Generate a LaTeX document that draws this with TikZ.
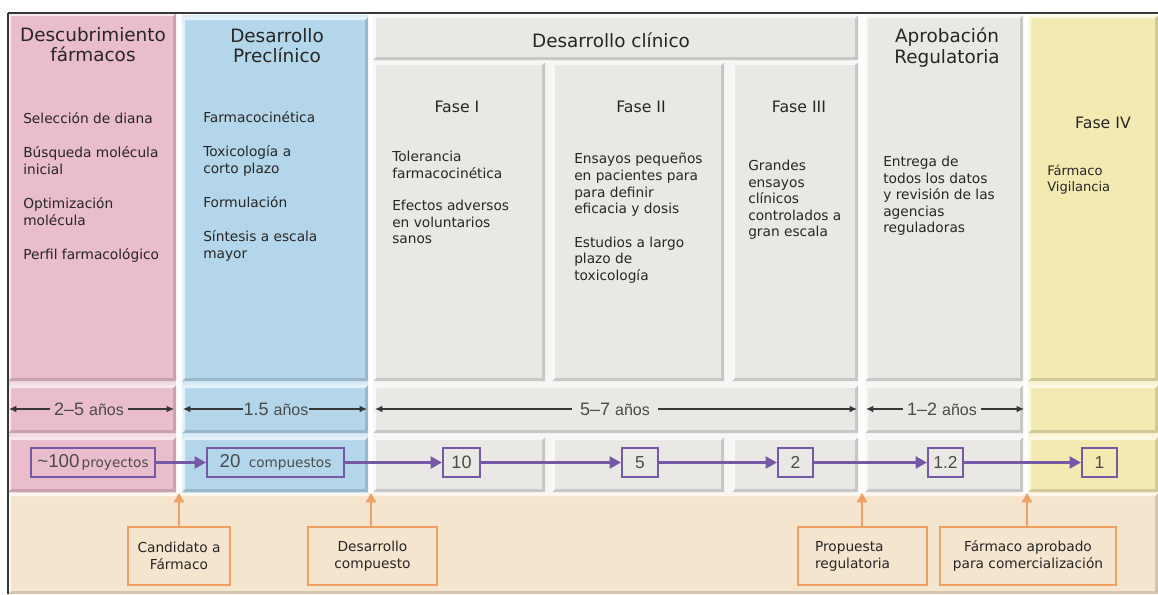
\documentclass[tikz,border=0pt]{standalone}
\usepackage{fontspec}
\setmainfont{DejaVu Sans}
\newfontfamily\numfont{Liberation Sans}
\usetikzlibrary{arrows.meta}

\definecolor{pinkc}{RGB}{233,189,203}
\definecolor{bluec}{RGB}{180,214,235}
\definecolor{grayc}{RGB}{234,232,229}
\definecolor{yellowc}{RGB}{243,234,178}
\definecolor{beigec}{RGB}{246,229,206}
\definecolor{purplec}{RGB}{117,88,166}
\definecolor{orangec}{RGB}{241,158,98}
\definecolor{inkc}{RGB}{38,38,38}
\definecolor{numc}{RGB}{75,75,75}
\definecolor{rulec}{RGB}{55,55,55}

% raised panel: colour, top-left x,y, bottom-right x,y (y grows downwards)
\newcommand\bevelbox[5]{%
  \fill[#1] (#2,#3) rectangle (#4,#5);
  \fill[#1!86!black] (#4,#3) -- (#4,#5) -- (#2,#5) -- ({#2+3},{#5-3}) -- ({#4-3},{#5-3}) -- ({#4-3},{#3+3}) -- cycle;
  \fill[#1!35!white] (#2,#5) -- (#2,#3) -- (#4,#3) -- ({#4-3},{#3+3}) -- ({#2+3},{#3+3}) -- ({#2+3},{#5-3}) -- cycle;
}

\begin{document}
\begin{tikzpicture}[x=0.75pt,y=-0.75pt,
  hdr/.style={font=\fontsize{13.8}{15.5}\selectfont, text=inkc, align=center, inner sep=0pt},
  phase/.style={font=\fontsize{11.8}{14}\selectfont, text=inkc, inner sep=0pt},
  body/.style={font=\fontsize{10.3}{12.4}\selectfont, text=inkc, align=left, inner sep=0pt},
  count/.style={draw=purplec, line width=1.6pt, minimum height=21.75pt, inner xsep=1.5pt, inner ysep=0pt, text=numc},
  flow/.style={purplec, line width=1.8pt, -{Triangle[length=8.5pt,width=9pt]}},
  dur/.style={rulec, line width=0.8pt, -{Latex[length=5.5pt,width=5pt]}},
  durtxt/.style={font=\numfont\fontsize{13.5}{15}\selectfont, text=numc, inner ysep=0pt},
  milestone/.style={draw=orangec, line width=1.6pt, fill=beigec, align=center, text=inkc,
    font=\fontsize{10.3}{12.8}\selectfont, minimum height=43.5pt, inner ysep=0pt},
  up/.style={orangec, line width=2pt, -{Triangle[length=7pt,width=7.5pt]}}]

\useasboundingbox (0,0) rectangle (1158,594);
\fill[white] (0,0) rectangle (1158,594);

% ---- column backgrounds and raised panels ----
\fill[pinkc!55!white] (8,13) rectangle (176,493);
\bevelbox{pinkc}{8}{13}{176}{381}
\bevelbox{pinkc}{8}{385}{176}{433}
\bevelbox{pinkc}{8}{437}{176}{492}

\fill[bluec!55!white] (182,15) rectangle (368,493);
\bevelbox{bluec}{182}{17}{368}{381}
\bevelbox{bluec}{182}{385}{368}{433}
\bevelbox{bluec}{182}{437}{368}{492}

\fill[grayc!40!white] (373,15) rectangle (858,493);
\bevelbox{grayc}{373}{15}{858}{60}
\bevelbox{grayc}{373}{62}{545}{381}
\bevelbox{grayc}{552}{62}{724}{381}
\bevelbox{grayc}{732}{62}{858}{381}
\bevelbox{grayc}{373}{385}{858}{433}
\bevelbox{grayc}{373}{437}{545}{492}
\bevelbox{grayc}{552}{437}{724}{492}
\bevelbox{grayc}{732}{437}{858}{492}

\fill[grayc!40!white] (865,15) rectangle (1023,493);
\bevelbox{grayc}{865}{15}{1023}{381}
\bevelbox{grayc}{865}{385}{1023}{433}
\bevelbox{grayc}{865}{437}{1023}{492}

\fill[yellowc!55!white] (1028,15) rectangle (1158,493);
\bevelbox{yellowc}{1028}{15}{1158}{381}
\bevelbox{yellowc}{1028}{385}{1158}{433}
\bevelbox{yellowc}{1028}{437}{1158}{492}

\bevelbox{beigec}{8}{493}{1158}{594}

% frame rules
\draw[rulec, line width=1.5pt] (8,13) -- (1158,13);
\draw[rulec, line width=1.5pt] (8,13) -- (8,594);

% ---- headings ----
\node[hdr, anchor=north] (hDesc) at (93,27) {Descubrimiento\\fármacos};
\node[hdr, anchor=north] (hPre) at (277,28) {Desarrollo\\Preclínico};
\node[hdr, anchor=base] (hClin) at (611,47) {Desarrollo clínico};
\node[hdr, anchor=north] (hApr) at (947,28) {Aprobación\\Regulatoria};

\node[phase, anchor=base] (f1) at (457,112) {Fase I};
\node[phase, anchor=base] (f2) at (641,112) {Fase II};
\node[phase, anchor=base] (f3) at (799,112) {Fase III};
\node[phase, anchor=base] (f4) at (1103,128) {Fase IV};

% ---- stage descriptions ----
\node[body, anchor=north west] (bDesc) at (23,112)
  {Selección de diana\\[13.5pt]Búsqueda molécula\\inicial\\[13.5pt]Optimización\\molécula\\[13pt]Perfil farmacológico};
\node[body, anchor=north west] (bPre) at (203,111)
  {Farmacocinética\\[13.5pt]Toxicología a\\corto plazo\\[13.5pt]Formulación\\[13pt]Síntesis a escala\\mayor};
\node[body, anchor=north west] (bF1) at (392,151)
  {Tolerancia\\farmacocinética\\[12pt]Efectos adversos\\en voluntarios\\sanos};
\node[body, anchor=north west] (bF2) at (574,153)
  {Ensayos pequeños\\en pacientes para\\para definir\\eficacia y dosis\\[13pt]Estudios a largo\\plazo de\\toxicología};
\node[body, anchor=north west] (bF3) at (748,160)
  {Grandes\\ensayos\\clínicos\\controlados a\\gran escala};
\node[body, anchor=north west] (bApr) at (883,156)
  {Entrega de\\todos los datos\\y revisión de las\\agencias\\reguladoras};
\node[body, anchor=north west, font=\fontsize{9.8}{12}\selectfont] (bF4) at (1047,165)
  {Fármaco\\Vigilancia};

% ---- durations ----
\coordinate (d1a) at (9,409);   \coordinate (d1b) at (174,409);
\coordinate (d2a) at (183,409); \coordinate (d2b) at (367,409);
\coordinate (d3a) at (375,409); \coordinate (d3b) at (857,409);
\coordinate (d4a) at (866,409); \coordinate (d4b) at (1024,409);

\node[durtxt, inner xsep=3pt] (t1) at (89,409) {2–5 {\fontsize{12}{14}\selectfont años}};
\node[durtxt, inner xsep=0.5pt] (t2) at (276,409) {1.5 {\fontsize{12}{14}\selectfont años}};
\node[durtxt, inner xsep=6pt] (t3) at (615,409) {5–7 {\fontsize{12}{14}\selectfont años}};
\node[durtxt, inner xsep=3pt] (t4) at (942,409) {1–2 {\fontsize{12}{14}\selectfont años}};

\draw[dur] (t1.west) -- (d1a); \draw[dur] (t1.east) -- (d1b);
\draw[dur] (t2.west) -- (d2a); \draw[dur] (t2.east) -- (d2b);
\draw[dur] (t3.west) -- (d3a); \draw[dur] (t3.east) -- (d3b);
\draw[dur] (t4.west) -- (d4a); \draw[dur] (t4.east) -- (d4b);

% ---- attrition of candidates ----
\node[count, minimum width=93pt] (c1) at (93,462.5)
  {{\numfont\fontsize{14}{16}\selectfont\textasciitilde 100}\,{\fontsize{10.2}{12}\selectfont proyectos}};
\node[count, minimum width=102.75pt] (c2) at (275.5,462.5)
  {{\numfont\fontsize{14}{16}\selectfont 20}\ \ {\fontsize{10.2}{12}\selectfont compuestos}};
\node[count, minimum width=27.75pt, font=\numfont\fontsize{13.5}{15}\selectfont] (c3) at (461.5,462.5) {10};
\node[count, minimum width=27pt, font=\numfont\fontsize{13}{15}\selectfont] (c4) at (640,462.5) {5};
\node[count, minimum width=26.25pt, font=\numfont\fontsize{13}{15}\selectfont] (c5) at (795.5,462.5) {2};
\node[count, minimum width=26.25pt, font=\numfont\fontsize{13}{15}\selectfont] (c6) at (945.5,462.5) {1.2};
\node[count, minimum width=26.25pt, font=\numfont\fontsize{13}{15}\selectfont] (c7) at (1099.5,462.5) {1};

\draw[flow] (c1) -- (c2);
\draw[flow] (c2) -- (c3);
\draw[flow] (c3) -- (c4);
\draw[flow] (c4) -- (c5);
\draw[flow] (c5) -- (c6);
\draw[flow] (c6) -- (c7);

% ---- milestones ----
\node[milestone, minimum width=76.5pt] (m1) at (179,556) {Candidato a\\Fármaco};
\node[milestone, minimum width=96.75pt] (m2) at (372.5,556) {Desarrollo\\compuesto};
\node[milestone, align=left, text width=71.25pt, inner xsep=12.75pt] (m3) at (862.5,556) {Propuesta\\regulatoria};
\node[milestone, minimum width=132pt] (m4) at (1028,556) {Fármaco aprobado\\para comercialización};

\coordinate (a1) at (179,493);
\coordinate (a2) at (371,493);
\coordinate (a3) at (862,493);
\coordinate (a4) at (1027,493);

\draw[up] (a1 |- m1.north) -- (a1);
\draw[up] (a2 |- m2.north) -- (a2);
\draw[up] (a3 |- m3.north) -- (a3);
\draw[up] (a4 |- m4.north) -- (a4);

\end{tikzpicture}
\end{document}
